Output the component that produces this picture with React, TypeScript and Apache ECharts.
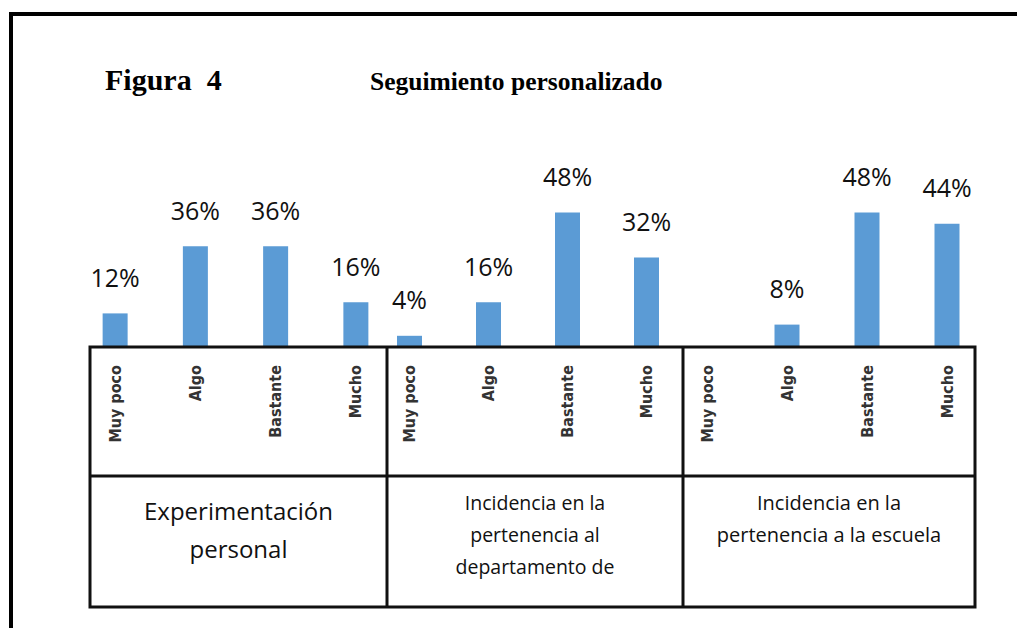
import React, { useEffect, useRef } from "react";
import * as echarts from "echarts";

const categories = ["Muy poco", "Algo", "Bastante", "Mucho"];
const groupNames = [
  "Experimentación\npersonal",
  "Incidencia en la\npertenencia al\ndepartamento de",
  "Incidencia en la\npertenencia a la escuela",
];
const experimentacion = [12, 36, 36, 16];
const departamento = [4, 16, 48, 32];
const escuela = [0, 8, 48, 44];
const figureLabel = "Figura  4";
const chartTitle = "Seguimiento personalizado";

export default function App() {
  const ref = useRef<HTMLDivElement>(null);
  useEffect(() => {
    document.body.style.margin = "0";
    const chart = echarts.init(ref.current!, undefined, { renderer: "svg" });
    const groups = [experimentacion, departamento, escuela];
    const grids = [
      { left: 75, width: 321, top: 67, height: 280 },
      { left: 370, width: 316, top: 67, height: 280 },
      { left: 667, width: 320, top: 67, height: 280 },
    ];
    const black = "#111";
    const cells = [
      { x: 90, w: 297, fs: 24, lh: 38, y: 529 },
      { x: 387, w: 296, fs: 19.5, lh: 32, y: 534 },
      { x: 683, w: 292, fs: 20, lh: 32, y: 518 },
    ];
    chart.setOption({
      animation: false,
      backgroundColor: "#fff",
      title: [
        {
          text: figureLabel,
          left: 100,
          top: 59,
          textStyle: { fontFamily: "Liberation Serif", fontWeight: "bold", fontSize: 30, color: "#000" },
        },
        {
          text: chartTitle,
          left: 365,
          top: 63,
          textStyle: { fontFamily: "Liberation Serif", fontWeight: "bold", fontSize: 25.5, color: "#000" },
        },
      ],
      grid: grids,
      xAxis: grids.map((_, i) => ({
        type: "category",
        gridIndex: i,
        data: categories,
        axisLine: { show: false },
        axisTick: { show: false },
        axisLabel: {
          rotate: 90,
          margin: 18,
          fontFamily: "DejaVu Sans Condensed",
          fontWeight: "bold",
          fontSize: 16,
          color: "#333",
          interval: 0,
        },
      })),
      yAxis: grids.map((_, i) => ({
        type: "value",
        gridIndex: i,
        min: 0,
        max: 100,
        show: false,
        splitLine: { show: false },
      })),
      series: groups.map((data, i) => ({
        type: "bar",
        xAxisIndex: i,
        yAxisIndex: i,
        data,
        barWidth: 25,
        itemStyle: { color: "#5B9BD5" },
        label: {
          show: true,
          position: "top",
          distance: 24,
          formatter: (p: any) => (p.value > 0 ? p.value + "%" : ""),
          fontFamily: "Open Sans",
          fontSize: 25,
          color: "#111",
        },
      })),
      graphic: [
        {
          type: "polyline",
          z: 20,
          shape: { points: [[11, 640], [11, 14], [1030, 14]] },
          style: { stroke: "#000", lineWidth: 4, fill: "none" },
        },
        {
          type: "rect",
          z: 20,
          shape: { x: 90, y: 347, width: 885, height: 260 },
          style: { stroke: black, lineWidth: 3, fill: "none" },
        },
        {
          type: "line",
          z: 20,
          shape: { x1: 90, y1: 476, x2: 975, y2: 476 },
          style: { stroke: black, lineWidth: 3 },
        },
        {
          type: "line",
          z: 20,
          shape: { x1: 387, y1: 347, x2: 387, y2: 607 },
          style: { stroke: black, lineWidth: 3 },
        },
        {
          type: "line",
          z: 20,
          shape: { x1: 683, y1: 347, x2: 683, y2: 607 },
          style: { stroke: black, lineWidth: 3 },
        },
        ...groupNames.map((name, i) => ({
          type: "text",
          z: 20,
          x: cells[i].x + cells[i].w / 2,
          y: cells[i].y,
          style: {
            text: name,
            textAlign: "center",
            textVerticalAlign: "middle",
            fontFamily: "Open Sans",
            fontSize: cells[i].fs,
            lineHeight: cells[i].lh,
            fill: "#111",
          },
        })),
      ],
    });
    return () => chart.dispose();
  }, []);
  return <div ref={ref} style={{ width: 1017, height: 628 }} />;
}
